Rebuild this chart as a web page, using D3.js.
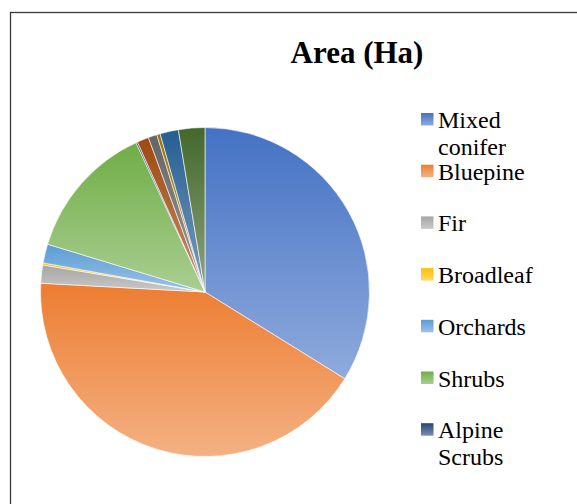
<!DOCTYPE html>
<html>
<head>
<meta charset="utf-8">
<script src="https://cdn.jsdelivr.net/npm/d3@7"></script>
<style>
  body { margin: 0; background: #fff; }
  svg { display: block; }
</style>
</head>
<body>
<div id="chart"></div>
<script>
// Data (hectares)
var categories = ["Mixed conifer", "Bluepine", "Fir", "Broadleaf", "Orchards", "Shrubs",
                  "Alpine Scrubs", "Agriculture", "Barren land", "Water bodies", "Settlements", "Pastures"];
var areaHa = [33840, 42010, 1780, 200, 1860, 13420, 150, 1150, 860, 330, 1810, 2590];
var colors = ["#4472C4", "#ED7D31", "#A5A5A5", "#FFC000", "#5B9BD5", "#70AD47",
              "#264478", "#9E480E", "#636363", "#997300", "#255E91", "#43682B"];
// only the entries that fit are shown in the legend
var legendCount = 7;

var svgWidth = 577;
var svgHeight = 504;
var cx = 205, cy = 292, radius = 164.5;
var serif = "'Liberation Serif', 'Times New Roman', serif";

var svg = d3.select("#chart")
  .append("svg")
  .attr("width", svgWidth)
  .attr("height", svgHeight);

// Gradients: base colour at top, lighter tint at bottom of each shape
var defs = svg.append("defs");
colors.forEach(function(c, i) {
  var g = defs.append("linearGradient")
    .attr("id", "grad" + i)
    .attr("x1", 0).attr("y1", 0).attr("x2", 0).attr("y2", 1);
  g.append("stop").attr("offset", "0%").attr("stop-color", c);
  g.append("stop").attr("offset", "100%").attr("stop-color", d3.interpolateRgb(c, "#fff")(0.4));
});

// Chart border
svg.append("rect")
  .attr("x", 10.5)
  .attr("y", 12.5)
  .attr("width", 620)
  .attr("height", 520)
  .attr("fill", "none")
  .attr("stroke", "#3a3a3a")
  .attr("stroke-width", 1.3);

// Title
svg.append("text")
  .attr("x", 357)
  .attr("y", 63)
  .attr("text-anchor", "middle")
  .style("font-family", serif)
  .style("font-size", "31px")
  .style("font-weight", "bold")
  .style("fill", "#000")
  .text("Area (Ha)");

// Pie
var pie = d3.pie().sort(null).value(function(d) { return d; });
var arc = d3.arc().innerRadius(0).outerRadius(radius);

var pieGroup = svg.append("g")
  .attr("transform", `translate(${cx}, ${cy})`);

pieGroup.selectAll("path")
  .data(pie(areaHa))
  .enter()
  .append("path")
  .attr("d", arc)
  .attr("fill", function(d, i) { return "url(#grad" + i + ")"; })
  .attr("stroke", "#fff")
  .attr("stroke-width", 0.6);

// Legend
var legend = svg.append("g")
  .attr("transform", "translate(421, 128)");

var items = legend.selectAll("g")
  .data(categories.slice(0, legendCount))
  .enter()
  .append("g")
  .attr("transform", function(d, i) { return `translate(0, ${i * 51.7})`; });

items.append("rect")
  .attr("x", 0)
  .attr("y", -15)
  .attr("width", 12.5)
  .attr("height", 12.5)
  .attr("fill", function(d, i) { return "url(#grad" + i + ")"; });

items.append("text")
  .attr("x", 17)
  .attr("y", 0)
  .style("font-family", serif)
  .style("font-size", "24px")
  .style("fill", "#000")
  .each(function(d) {
    var words = d.split(" ");
    var el = d3.select(this);
    // wrap two-word labels that are too wide for the legend box
    var lines = words.length > 1 && d.length > 10 ? words : [d];
    lines.forEach(function(w, k) {
      el.append("tspan").attr("x", 17).attr("dy", k === 0 ? 0 : 27).text(w);
    });
  });
</script>
</body>
</html>
